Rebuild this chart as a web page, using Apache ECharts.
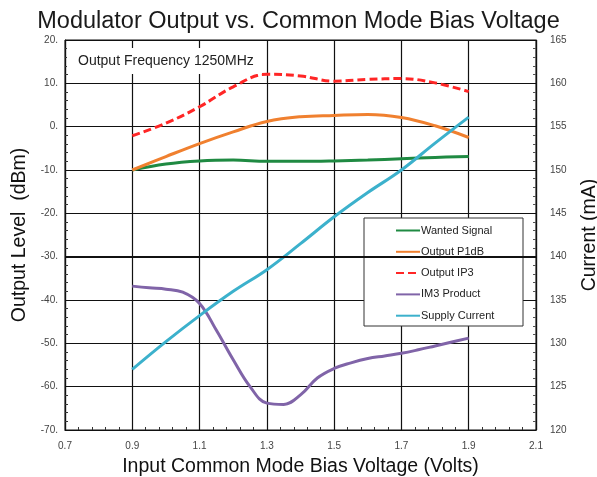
<!DOCTYPE html>
<html>
<head>
<meta charset="utf-8">
<script src="https://cdn.jsdelivr.net/npm/echarts@6/dist/echarts.min.js"></script>
<style>
  html, body { margin: 0; padding: 0; background: #fff; }
  #chart { width: 597px; height: 477px; }
</style>
</head>
<body>
<div id="chart"></div>
<script>
// voltages (V)
const voltages = [0.9, 1.0, 1.1, 1.2, 1.3, 1.4, 1.5, 1.6, 1.7, 1.8, 1.9];
const wantedSignal = [-10, -8.6, -7.9, -7.7, -8.0, -8.0, -7.9, -7.7, -7.4, -7.1, -6.9];
const outputP1dB = [-10, -6.9, -3.9, -1.2, 1.2, 2.3, 2.6, 2.8, 2.1, 0.2, -2.5];
const outputIP3 = [-2.1, 0.8, 4.6, 9.2, 12.1, 11.7, 10.5, 10.9, 11.1, 10.1, 8.1];
const supplyCurrent = [127, 130.2, 133.2, 136, 138.5, 141.5, 144.6, 147.4, 150, 153.1, 156.1];

// IM3 read at finer steps
const im3Voltages = [0.9, 0.95, 1.0, 1.05, 1.1, 1.15, 1.2, 1.25, 1.3, 1.35, 1.4,
  1.45, 1.5, 1.55, 1.6, 1.65, 1.7, 1.75, 1.8, 1.85, 1.9];
const im3Product = [-36.8, -37.2, -37.5, -38.2, -40.8, -47, -53.8, -60, -63.8, -64.1, -61.9,
  -58, -55.8, -54.5, -53.5, -52.9, -52.3, -51.5, -50.6, -49.7, -48.8];

const pairs = (xs, ys) => xs.map((x, i) => [x, ys[i]]);

const black = '#111';
const labelStyle = { color: '#444', fontSize: 10, fontFamily: 'Liberation Sans' };
const nameStyle = { fontSize: 19.5, color: '#111', fontFamily: 'Liberation Sans' };

const chart = echarts.init(document.getElementById('chart'));

const option = {
  animation: false,
  title: [
    {
      text: 'Modulator Output vs. Common Mode Bias Voltage',
      left: 'center',
      top: 5,
      textStyle: { fontSize: 23.5, fontWeight: 'normal', color: '#1a1a1a', fontFamily: 'Liberation Sans' }
    },
    {
      text: 'Output Frequency 1250MHz',
      left: 67,
      top: 48,
      padding: [6, 8, 6, 11],
      backgroundColor: '#fff',
      z: 5,
      textStyle: { fontSize: 14, fontWeight: 'normal', color: '#222', fontFamily: 'Liberation Sans' }
    }
  ],
  grid: {
    left: 65, right: 61, top: 40, bottom: 47,
    outerBoundsMode: 'none',
    show: true, borderColor: black, borderWidth: 1
  },
  xAxis: {
    type: 'value',
    min: 0.7, max: 2.1, interval: 0.2,
    name: 'Input Common Mode Bias Voltage (Volts)',
    nameLocation: 'middle',
    nameGap: 27,
    nameTextStyle: nameStyle,
    axisLine: { onZero: false, lineStyle: { color: black, width: 1.2 } },
    axisTick: { inside: true, length: 5, lineStyle: { color: black } },
    minorTick: { show: true, splitNumber: 5, length: 3, lineStyle: { color: '#333' } },
    axisLabel: Object.assign({ margin: 11, formatter: v => v.toFixed(1) }, labelStyle),
    splitLine: { show: true, lineStyle: { color: black, width: 1.2 } }
  },
  yAxis: [
    {
      type: 'value',
      min: -70, max: 20, interval: 10,
      name: 'Output Level  (dBm)',
      nameLocation: 'middle',
      nameGap: 35,
      nameTextStyle: nameStyle,
      axisLine: { show: true, lineStyle: { color: black, width: 1.2 } },
      axisTick: { inside: true, length: 5, lineStyle: { color: black } },
      minorTick: { show: true, splitNumber: 5, length: 3, lineStyle: { color: '#333' } },
      axisLabel: Object.assign({ margin: 7, formatter: v => v + '.' }, labelStyle),
      splitLine: { show: true, lineStyle: { color: black, width: 1.2 } }
    },
    {
      type: 'value',
      min: 120, max: 165, interval: 5,
      position: 'right',
      name: 'Current (mA)',
      nameLocation: 'middle',
      nameGap: 44,
      nameTextStyle: nameStyle,
      axisLine: { show: true, lineStyle: { color: black, width: 1.2 } },
      axisTick: { inside: true, length: 5, lineStyle: { color: black } },
      minorTick: { show: true, splitNumber: 5, length: 3, lineStyle: { color: '#555' } },
      axisLabel: Object.assign({ margin: 14 }, labelStyle),
      splitLine: { show: false }
    }
  ],
  legend: {
    orient: 'vertical',
    left: 395,
    top: 225,
    itemWidth: 24,
    itemHeight: 10,
    itemGap: 10.3,
    padding: 0,
    z: 6,
    itemStyle: { opacity: 0 },
    textStyle: { fontSize: 11, color: '#222', fontFamily: 'Liberation Sans', padding: [0, 0, 0, -4] },
    data: ['Wanted Signal', 'Output P1dB', 'Output IP3', 'IM3 Product', 'Supply Current']
  },
  graphic: [
    {
      type: 'rect',
      z: 5,
      shape: { x: 364, y: 218, width: 159, height: 108 },
      style: { fill: '#fff', stroke: '#333', lineWidth: 1 }
    }
  ],
  series: [
    {
      name: 'Wanted Signal', type: 'line', smooth: 0.4, showSymbol: false,
      lineStyle: { color: '#1f8a42', width: 3 }, itemStyle: { color: '#1f8a42' },
      data: pairs(voltages, wantedSignal),
      markLine: {
        silent: true, symbol: 'none', label: { show: false },
        lineStyle: { color: black, width: 2, type: 'solid' },
        data: [{ yAxis: -30 }]
      }
    },
    {
      name: 'Output P1dB', type: 'line', smooth: 0.4, showSymbol: false,
      lineStyle: { color: '#f0802f', width: 3 }, itemStyle: { color: '#f0802f' },
      data: pairs(voltages, outputP1dB)
    },
    {
      name: 'Output IP3', type: 'line', smooth: 0.4, showSymbol: false,
      lineStyle: { color: '#ff2626', width: 3, type: [8, 4] }, itemStyle: { color: '#ff2626' },
      data: pairs(voltages, outputIP3)
    },
    {
      name: 'IM3 Product', type: 'line', smooth: 0.4, showSymbol: false,
      lineStyle: { color: '#8064a8', width: 3 }, itemStyle: { color: '#8064a8' },
      data: pairs(im3Voltages, im3Product)
    },
    {
      name: 'Supply Current', type: 'line', smooth: 0.4, showSymbol: false, yAxisIndex: 1,
      lineStyle: { color: '#3cb1cc', width: 3 }, itemStyle: { color: '#3cb1cc' },
      data: pairs(voltages, supplyCurrent)
    }
  ]
};

chart.setOption(option);
window.addEventListener('resize', chart.resize);
</script>
</body>
</html>
